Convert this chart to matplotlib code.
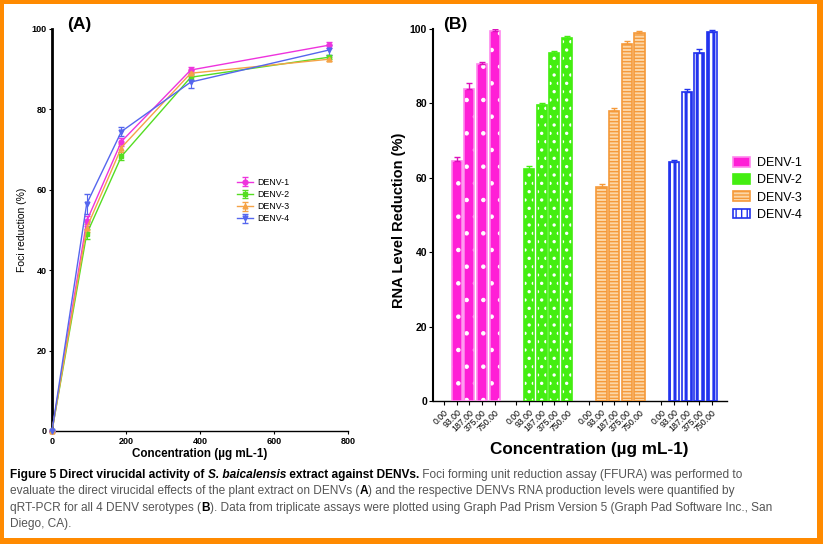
import matplotlib
matplotlib.use("Agg")
import matplotlib.pyplot as plt
import numpy as np
from matplotlib.patches import Rectangle

plt.rcParams['font.family'] = ['Liberation Sans', 'DejaVu Sans']

# ---------------- data ----------------
series = ["DENV-1", "DENV-2", "DENV-3", "DENV-4"]
conc_a = [0, 93.75, 187.5, 375, 750]
foci_d1 = [0, 52.2, 72.0, 89.8, 96.0]
foci_d2 = [0, 49.0, 68.3, 88.0, 93.0]
foci_d3 = [0, 50.5, 70.5, 89.0, 92.5]
foci_d4 = [0, 56.5, 74.5, 86.8, 94.8]
foci_err_d1 = [0, 1.2, 1.0, 0.8, 0.8]
foci_err_d2 = [0, 1.2, 1.0, 0.8, 0.5]
foci_err_d3 = [0, 1.0, 1.0, 0.8, 0.5]
foci_err_d4 = [0, 2.5, 1.0, 1.5, 1.2]

conc_labels = ["0.00", "93.00", "187.00", "375.00", "750.00"]
rna_d1 = [0, 64.5, 84.0, 90.5, 99.5]
rna_d2 = [0, 62.5, 79.5, 93.5, 97.5]
rna_d3 = [0, 57.5, 78.0, 96.0, 99.0]
rna_d4 = [0, 64.2, 83.0, 93.5, 99.2]
rna_err_d1 = [0, 1.2, 1.5, 0.5, 0.4]
rna_err_d2 = [0, 0.8, 0.6, 0.5, 0.5]
rna_err_d3 = [0, 0.8, 0.8, 0.8, 0.5]
rna_err_d4 = [0, 0.6, 1.0, 1.2, 0.4]

line_colors = ["#ee33dd", "#55dd22", "#f5a347", "#5566ee"]
markers = ["o", "s", "^", "v"]

W, H = 823, 544
fig = plt.figure(figsize=(W / 100, H / 100), dpi=100)

def fx(px):
    return px / W

def fy(py):
    return 1 - py / H

# ---------------- panel A ----------------
axA = fig.add_axes([fx(52), fy(431), fx(348) - fx(52), fy(29) - fy(431)])
foci = [foci_d1, foci_d2, foci_d3, foci_d4]
foci_err = [foci_err_d1, foci_err_d2, foci_err_d3, foci_err_d4]
for name, vals, err, c, m in zip(series, foci, foci_err, line_colors, markers):
    axA.errorbar(conc_a, vals, yerr=err, color=c, marker=m, markersize=3.5,
                 linewidth=1.0, capsize=2, elinewidth=0.8, clip_on=False,
                 label=name, zorder=3)
axA.set_xlim(0, 800)
axA.set_ylim(0, 100)
axA.set_xticks([0, 200, 400, 600, 800])
axA.set_yticks([0, 20, 40, 60, 80, 100])
axA.spines['top'].set_visible(False)
axA.spines['right'].set_visible(False)
axA.spines['left'].set_linewidth(2.0)
axA.spines['bottom'].set_linewidth(1.0)
axA.tick_params(axis='both', labelsize=6.5, length=2.5, width=0.8, pad=1.5)
for lab in axA.get_xticklabels() + axA.get_yticklabels():
    lab.set_fontweight('bold')
axA.set_xlabel("Concentration (µg mL-1)", fontsize=8.4, fontweight='bold', labelpad=2)
axA.set_ylabel("Foci reduction (%)", fontsize=7.5, labelpad=3)
legA = axA.legend(loc='upper left', bbox_to_anchor=(fx(229), fy(170)),
                  bbox_transform=fig.transFigure, frameon=False, fontsize=6.4,
                  handlelength=1.8, labelspacing=0.35, handletextpad=0.5)
fig.text(fx(67), fy(25), "(A)", fontsize=12.5, fontweight='bold', va='center', ha='left')

# ---------------- panel B ----------------
axB = fig.add_axes([fx(433.3), fy(401), fx(726.7) - fx(433.3), fy(29) - fy(401)])
rna = [rna_d1, rna_d2, rna_d3, rna_d4]
rna_err = [rna_err_d1, rna_err_d2, rna_err_d3, rna_err_d4]
group_step = 5.72
bw = 0.8
fills = ["#ff1fd6", "#44ee11", "#fcd6a6", "#ffffff"]
edges = ["#ff88ee", "#44ee11", "#f59a3a", "#2233ee"]
hatch_cols = ["#ffffff", "#ffffff", "#f59a3a", "#2233ee"]
hatches = [".", "..", "-----", "|||"]
hatch_lw = [0.8, 1.2, 1.0, 2.2]
all_pos = []
all_labels = []
handles = []
for g, (name, vals, err) in enumerate(zip(series, rna, rna_err)):
    plt.rcParams['hatch.linewidth'] = hatch_lw[g]
    pos = [g * group_step + i for i in range(len(vals))]
    all_pos += pos
    all_labels += conc_labels
    pv = [p for p, v in zip(pos, vals) if v > 0]
    vv = [v for v in vals if v > 0]
    ev = [e for e, v in zip(err, vals) if v > 0]
    axB.bar(pv, vv, width=bw, color=fills[g], edgecolor='none', zorder=2)
    axB.bar(pv, vv, width=bw, facecolor='none', edgecolor=hatch_cols[g],
            hatch=hatches[g], linewidth=0.01, zorder=3)
    axB.bar(pv, vv, width=bw, color='none', edgecolor=edges[g],
            linewidth=1.2, zorder=4)
    axB.errorbar(pv, vv, yerr=[[0] * len(ev), ev],
                 fmt='none', ecolor=edges[g] if g != 0 else "#dd11bb",
                 elinewidth=1.0, capsize=2.5, zorder=5)
    h = Rectangle((0, 0), 1, 1, facecolor=fills[g], edgecolor=edges[g],
                  hatch=hatches[g] if g >= 2 else None, linewidth=1.2, label=name)
    handles.append(h)
plt.rcParams['hatch.linewidth'] = 1.0
axB.set_xlim(-0.85, 3 * group_step + 4 + 1.17)
axB.set_ylim(0, 100)
axB.set_yticks([0, 20, 40, 60, 80, 100])
axB.set_xticks(all_pos)
axB.set_xticklabels(all_labels, rotation=45, ha='right', rotation_mode='anchor',
                    fontsize=6.3)
axB.spines['top'].set_visible(False)
axB.spines['right'].set_visible(False)
axB.spines['left'].set_linewidth(1.5)
axB.spines['bottom'].set_linewidth(1.0)
axB.tick_params(axis='y', labelsize=7.5, length=3, width=0.8, pad=1.5)
axB.tick_params(axis='x', length=3, width=0.8, pad=2)
for lab in axB.get_yticklabels():
    lab.set_fontweight('bold')
axB.set_xlabel("Concentration (µg mL-1)", fontsize=12.3, fontweight='bold')
axB.xaxis.set_label_coords(0.53, -0.11)
axB.set_ylabel("RNA Level Reduction (%)", fontsize=10.5, fontweight='bold')
axB.yaxis.set_label_coords(-0.094, 0.487)
fig.legend(handles=handles, loc='upper left', bbox_to_anchor=(fx(722), fy(146)),
           frameon=False, fontsize=9, handlelength=1.3, handleheight=0.8,
           labelspacing=0.4, handletextpad=0.6)
fig.text(fx(443), fy(25), "(B)", fontsize=12.5, fontweight='bold', va='center', ha='left')

# ---------------- caption ----------------
renderer = fig.canvas.get_renderer()
cap_size = 8.6
gray = "#555555"
cap_lines = [
    [("Figure 5 Direct virucidal activity of ", 'bold', 'normal', 'black'),
     ("S. baicalensis", 'bold', 'italic', 'black'),
     (" extract against DENVs.", 'bold', 'normal', 'black'),
     (" Foci forming unit reduction assay (FFURA) was performed to", 'normal', 'normal', gray)],
    [("evaluate the direct virucidal effects of the plant extract on DENVs (", 'normal', 'normal', gray),
     ("A", 'bold', 'normal', 'black'),
     (") and the respective DENVs RNA production levels were quantified by", 'normal', 'normal', gray)],
    [("qRT-PCR for all 4 DENV serotypes (", 'normal', 'normal', gray),
     ("B", 'bold', 'normal', 'black'),
     ("). Data from triplicate assays were plotted using Graph Pad Prism Version 5 (Graph Pad Software Inc., San", 'normal', 'normal', gray)],
    [("Diego, CA).", 'normal', 'normal', gray)],
]
y0 = 475
for li, parts in enumerate(cap_lines):
    xpx = 10
    ypx = y0 + li * 16.3
    for txt, wt, st, col in parts:
        t = fig.text(fx(xpx), fy(ypx), txt, fontsize=cap_size, fontweight=wt,
                     fontstyle=st, color=col, va='center', ha='left')
        bb = t.get_window_extent(renderer=renderer)
        xpx += bb.width

# ---------------- orange border ----------------
orange = "#ff8a00"
for (x0, y0b, w, h) in [(0, 0, 4, H), (W - 6, 0, 6, H), (0, 0, W, 3.5), (0, H - 6, W, 6)]:
    fig.patches.append(Rectangle((fx(x0), fy(y0b + h)), fx(w), h / H,
                                 transform=fig.transFigure, facecolor=orange,
                                 edgecolor='none', zorder=10))

fig.savefig("out.png", dpi=100)
